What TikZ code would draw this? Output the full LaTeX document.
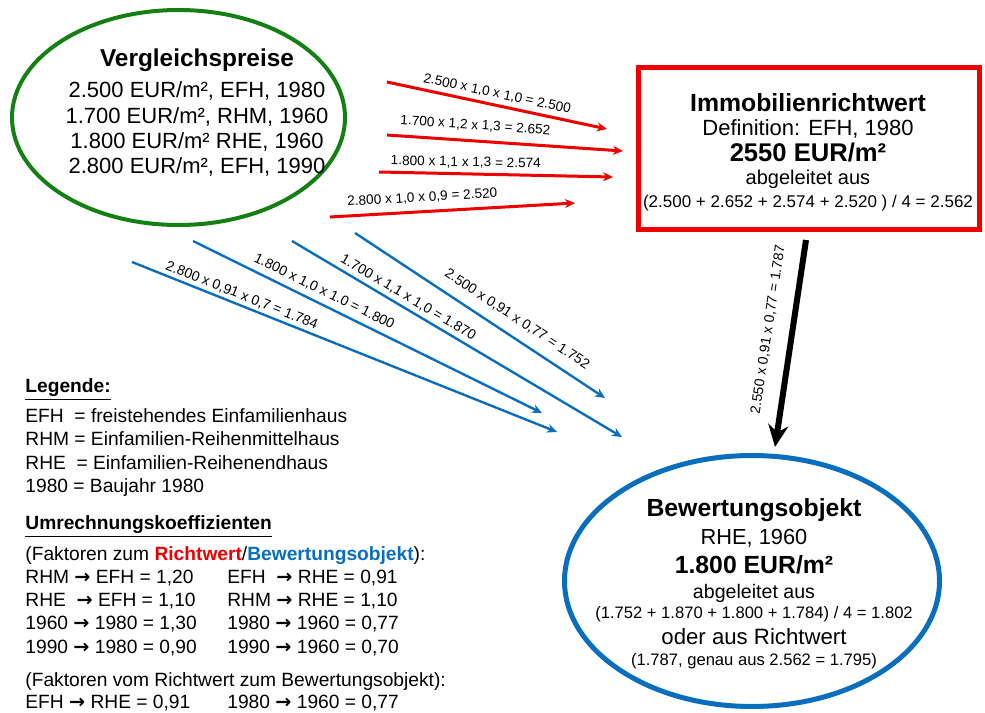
\documentclass[tikz,border=0pt]{standalone}
\usepackage{fontspec}
\setmainfont{Liberation Sans}
\newfontfamily\pfeilfont{DejaVu Sans}
\usetikzlibrary{arrows.meta,shapes.geometric,positioning}

\definecolor{vpgreen}{RGB}{20,128,20}
\definecolor{rwred}{RGB}{238,0,0}
\definecolor{bwblue}{RGB}{10,110,190}

\newcommand{\fsz}[2]{\fontsize{#1}{#2}\selectfont}
\newcommand{\koeffzeile}[2]{\makebox[101pt][l]{#1}#2}
\newcommand{\zu}{{\pfeilfont\bfseries →}}

\begin{document}
\begin{tikzpicture}[x=0.5pt, y=-0.5pt,
    every node/.style={inner sep=0pt},
    oval/.style={ellipse, draw},
    redpfeil/.style={-{Stealth[length=5pt,width=4.5pt]}, draw=rwred, line width=1.5pt},
    bluepfeil/.style={-{Stealth[length=5pt,width=4.5pt]}, draw=bwblue, line width=1.2pt},
    formel/.style={font=\fsz{6.8}{8}, sloped}]

  \useasboundingbox (0,0) rectangle (985,712);

  % Vergleichspreise
  \node [oval, draw=vpgreen, line width=2pt, minimum width=166.5pt, minimum height=107.5pt] (vp) at (178.5,117.5) {};
  \node [align=center, font=\fsz{11}{12.6}] (vptext) at (197,112.5) {%
    {\fsz{12.2}{12.6}\bfseries Vergleichspreise}\\[3.1pt]
    2.500 EUR/m², EFH, 1980\\
    1.700 EUR/m², RHM, 1960\\
    1.800 EUR/m² RHE, 1960\\
    2.800 EUR/m², EFH, 1990};

  % Immobilienrichtwert
  \node [rectangle, draw=rwred, line width=2.5pt, minimum width=170.5pt, minimum height=81pt] (rw) at (809,148.5) {};
  \node [align=center, font=\fsz{11}{11.5}] (rwtext) at (808,152) {%
    {\fsz{12.4}{11.5}\bfseries Immobilienrichtwert}\\[0.5pt]
    Definition: EFH, 1980\\[1.6pt]
    {\fsz{12.8}{11.5}\bfseries 2550 EUR/m²}\\
    {\fsz{10}{11.5}abgeleitet aus}\\
    {\fsz{8.5}{11.5}(2.500 + 2.652 + 2.574 + 2.520 ) / 4 = 2.562}};

  % Bewertungsobjekt
  \node [oval, draw=bwblue, line width=2.5pt, minimum width=187.5pt, minimum height=125.5pt] (bw) at (752,581) {};
  \node [align=center, font=\fsz{11}{12}] (bwtext) at (754,584) {%
    {\fsz{12.4}{12}\bfseries Bewertungsobjekt}\\[1.95pt]
    {\fsz{10.9}{12}RHE, 1960}\\[2.55pt]
    {\fsz{12.4}{12}\bfseries 1.800 EUR/m²}\\[0.55pt]
    {\fsz{9.8}{12}abgeleitet aus}\\[-2pt]
    {\fsz{8.3}{12}(1.752 + 1.870 + 1.800 + 1.784) / 4 = 1.802}\\[1pt]
    {\fsz{11.1}{12}oder aus Richtwert}\\[-1.5pt]
    {\fsz{8.3}{12}(1.787, genau aus 2.562 = 1.795)}};

  % Legende
  \node [anchor=north west, align=left, font=\fsz{9.6}{11.7}] (legende) at (25,378) {%
    \underline{\textbf{Legende:}}\\[3.3pt]
    EFH\ \ = freistehendes Einfamilienhaus\\
    RHM = Einfamilien-Reihenmittelhaus\\
    RHE\ \ = Einfamilien-Reihenendhaus\\
    1980 = Baujahr 1980};

  \node [anchor=north west, align=left, font=\fsz{9.6}{11.6}] (koeff) at (25,515) {%
    \underline{\textbf{Umrechnungskoeffizienten}}\\[3.9pt]
    (Faktoren zum \textcolor{rwred}{\textbf{Richtwert}}/\textcolor{bwblue}{\textbf{Bewertungsobjekt}}):\\
    \koeffzeile{RHM \zu{} EFH = 1,20}{EFH\ \ \zu{} RHE = 0,91}\\
    \koeffzeile{RHE\ \ \zu{} EFH = 1,10}{RHM \zu{} RHE = 1,10}\\
    \koeffzeile{1960 \zu{} 1980 = 1,30}{1980 \zu{} 1960 = 0,77}\\
    \koeffzeile{1990 \zu{} 1980 = 0,90}{1990 \zu{} 1960 = 0,70}\\[4.9pt]
    (Faktoren vom Richtwert zum Bewertungsobjekt):\\[-0.4pt]
    \koeffzeile{EFH \zu{} RHE = 0,91}{1980 \zu{} 1960 = 0,77}};

  % Pfeile zum Richtwert
  \coordinate (r1a) at (387,82);  \coordinate (r1b) at (607,129);
  \coordinate (r2a) at (387,135); \coordinate (r2b) at (623,151);
  \coordinate (r3a) at (379,172); \coordinate (r3b) at (613,177);
  \coordinate (r4a) at (330,217); \coordinate (r4b) at (575,203);

  \path (r1a) edge [redpfeil] node [formel, pos=0.49, above=2.1pt] {2.500 x 1,0 x 1,0 = 2.500} (r1b)
        (r2a) edge [redpfeil] node [formel, pos=0.37, above=4.1pt] {1.700 x 1,2 x 1,3 = 2.652} (r2b)
        (r3a) edge [redpfeil] node [formel, pos=0.37, above=2.1pt] {1.800 x 1,1 x 1,3 = 2.574} (r3b)
        (r4a) edge [redpfeil] node [formel, pos=0.38, above=3.4pt] {2.800 x 1,0 x 0,9 = 2.520} (r4b);

  % Pfeile zum Bewertungsobjekt
  \coordinate (b1a) at (355,233); \coordinate (b1b) at (605,398);
  \coordinate (b2a) at (292,241); \coordinate (b2b) at (622,437);
  \coordinate (b3a) at (193,241); \coordinate (b3b) at (542,413);
  \coordinate (b4a) at (132,262); \coordinate (b4b) at (557,432);

  \path (b1a) edge [bluepfeil] node [formel, font=\fsz{7}{8}, pos=0.61, above=5.2pt] {2.500 x 0,91 x 0,77 = 1.752} (b1b)
        (b2a) edge [bluepfeil] node [formel, font=\fsz{7}{8}, pos=0.335, above=2pt] {1.700 x 1,1 x 1,0 = 1.870} (b2b)
        (b3a) edge [bluepfeil] node [formel, font=\fsz{7}{8}, pos=0.36, above=2.8pt] {1.800 x 1,0 x 1.0 = 1.800} (b3b)
        (b4a) edge [bluepfeil] node [formel, font=\fsz{7}{8}, pos=0.25, above=1.3pt] {2.800 x 0,91 x 0,7 = 1.784} (b4b);

  % Richtwert zum Bewertungsobjekt
  \coordinate (s1) at (806,240); \coordinate (s2) at (775,447);
  \path (s1) edge [-{Stealth[length=11pt,width=10pt]}, line width=3pt]
        node [formel, font=\fsz{7}{8}, pos=0.45, above=7.6pt] {2.550 x 0,91 x 0,77 = 1.787} (s2);
\end{tikzpicture}
\end{document}
